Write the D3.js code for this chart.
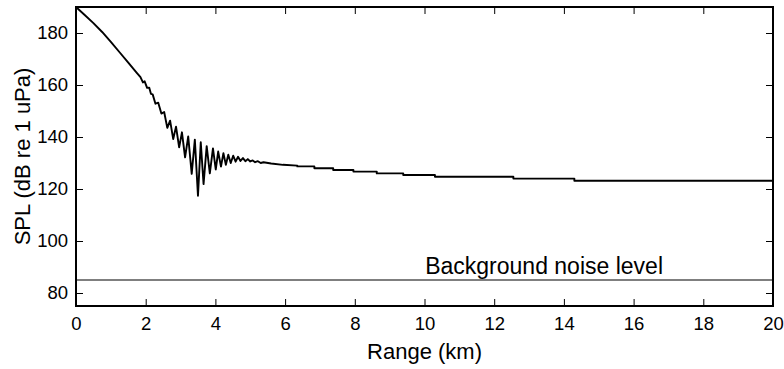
<!DOCTYPE html>
<html>
<head>
<meta charset="utf-8">
<script src="https://cdn.jsdelivr.net/npm/d3@7"></script>
<style>
  html, body { margin: 0; padding: 0; background: #fff; }
  svg { display: block; }
  text { font-family: "Liberation Sans", Arial, sans-serif; fill: #000; }
</style>
</head>
<body>
<div id="spl_chart"></div>
<script>
// range (km) and transmission SPL (dB re 1 uPa)
const rangeKm = [
  0, 0.25, 0.5, 0.75, 1.0, 1.25, 1.5, 1.75, 1.85, 1.92, 1.97, 2.04, 2.1, 2.15,
  2.20, 2.28, 2.36, 2.45, 2.53, 2.62, 2.70, 2.79, 2.87, 2.96, 3.04, 3.13,
  3.22, 3.32, 3.41, 3.50, 3.58, 3.66, 3.75, 3.84, 3.93, 4.01, 4.08, 4.16,
  4.23, 4.30, 4.37, 4.44, 4.51, 4.58, 4.65, 4.72, 4.79, 4.86, 4.93, 5.00,
  5.07, 5.14, 5.22, 5.30, 5.38, 5.60, 5.94,
  6.35, 6.35, 6.84, 6.84, 7.38, 7.38, 7.96, 7.96, 8.63, 8.63, 9.39, 9.39,
  10.3, 10.3, 12.55, 12.55, 14.3, 14.3, 20
];
const splDb = [
  190, 186.9, 183.8, 180.4, 176.6, 172.6, 168.6, 164.6, 163.0, 161.0, 161.4, 158.9, 159.0, 156.6,
  156.4, 152.8, 153.2, 149.0, 149.6, 143.5, 146.3, 139.2, 144.0, 136.0, 141.8, 132.2,
  140.2, 125.8, 139.0, 117.4, 138.0, 121.9, 136.5, 126.0, 135.6, 127.5, 134.4, 128.6,
  133.8, 129.3, 133.2, 130.0, 132.8, 130.5, 132.4, 130.8, 131.9, 130.7, 131.5, 130.6,
  131.0, 130.3, 130.7, 130.0, 130.3, 129.8, 129.3,
  129.0, 128.7, 128.7, 128.0, 128.0, 127.3, 127.3, 126.7, 126.7, 126.0, 126.0, 125.4,
  125.4, 124.7, 124.7, 124.0, 124.0, 123.2, 123.2
];
const noiseLevel = 85;
const noiseLabel = 'Background noise level';

const xTicks = [0, 2, 4, 6, 8, 10, 12, 14, 16, 18, 20];
const yTicks = [80, 100, 120, 140, 160, 180];

const width = 784;
const height = 369;
const margins = { top: 7, right: 11, bottom: 63, left: 76 };

const svg = d3
  .select('#spl_chart')
  .append('svg')
  .attr('width', width)
  .attr('height', height);

const xScale = d3.scaleLinear().domain([0, 20]).range([margins.left, width - margins.right]);
const yScale = d3.scaleLinear().domain([75, 190]).range([height - margins.bottom, margins.top]);

const tickLen = 7;

// bottom axis with labels, inward ticks
svg
  .append('g')
  .attr('transform', `translate(0,${yScale(75)})`)
  .call(d3.axisBottom(xScale).tickValues(xTicks).tickSizeInner(-tickLen).tickSizeOuter(0).tickPadding(11))
  .call(g => g.select('.domain').remove())
  .call(g => g.selectAll('line').attr('stroke', '#000'))
  .call(g => g.selectAll('text').style('font-size', '18.5px').attr('fill', '#000'));

// top axis ticks only
svg
  .append('g')
  .attr('transform', `translate(0,${yScale(190)})`)
  .call(d3.axisTop(xScale).tickValues(xTicks).tickSizeInner(-tickLen).tickSizeOuter(0).tickFormat(''))
  .call(g => g.select('.domain').remove())
  .call(g => g.selectAll('line').attr('stroke', '#000'));

// left axis with labels
svg
  .append('g')
  .attr('transform', `translate(${xScale(0)},0)`)
  .call(d3.axisLeft(yScale).tickValues(yTicks).tickSizeInner(-tickLen).tickSizeOuter(0).tickPadding(8))
  .call(g => g.select('.domain').remove())
  .call(g => g.selectAll('line').attr('stroke', '#000'))
  .call(g => g.selectAll('text').style('font-size', '18.5px').attr('fill', '#000'));

// right axis ticks only
svg
  .append('g')
  .attr('transform', `translate(${xScale(20)},0)`)
  .call(d3.axisRight(yScale).tickValues(yTicks).tickSizeInner(-tickLen).tickSizeOuter(0).tickFormat(''))
  .call(g => g.select('.domain').remove())
  .call(g => g.selectAll('line').attr('stroke', '#000'));

// noise floor
svg
  .append('line')
  .attr('x1', xScale(0))
  .attr('x2', xScale(20))
  .attr('y1', yScale(noiseLevel))
  .attr('y2', yScale(noiseLevel))
  .attr('stroke', '#000')
  .attr('stroke-width', 1.2);

svg
  .append('text')
  .attr('x', xScale(10.02))
  .attr('y', yScale(noiseLevel) - 6)
  .style('font-size', '23px')
  .text(noiseLabel);

// SPL curve
const points = rangeKm.map((r, i) => ({ r, spl: splDb[i] }));
const lineGenerator = d3
  .line()
  .x(d => xScale(d.r))
  .y(d => yScale(d.spl));

svg
  .append('path')
  .attr('d', lineGenerator(points))
  .attr('fill', 'none')
  .attr('stroke', '#000')
  .attr('stroke-width', 1.9)
  .attr('stroke-linejoin', 'round');

// box
svg
  .append('rect')
  .attr('x', xScale(0))
  .attr('y', yScale(190))
  .attr('width', xScale(20) - xScale(0))
  .attr('height', yScale(75) - yScale(190))
  .attr('fill', 'none')
  .attr('stroke', '#000')
  .attr('stroke-width', 2);

// axis titles
svg
  .append('text')
  .attr('x', (xScale(0) + xScale(20)) / 2)
  .attr('y', 359)
  .attr('text-anchor', 'middle')
  .style('font-size', '22px')
  .text('Range (km)');

svg
  .append('text')
  .attr('transform', `translate(30,${(yScale(75) + yScale(190)) / 2}) rotate(-90)`)
  .attr('text-anchor', 'middle')
  .style('font-size', '22px')
  .text('SPL (dB re 1 uPa)');
</script>
</body>
</html>
